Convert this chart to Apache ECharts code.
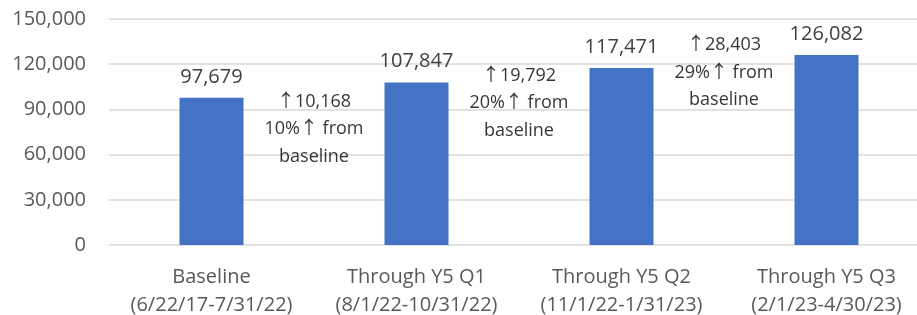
<!DOCTYPE html>
<html>
<head>
<meta charset="utf-8">
<script src="https://cdn.jsdelivr.net/npm/echarts@6/dist/echarts.min.js"></script>
<style>
  html, body { margin:0; padding:0; background:#fff; }
  #chart { width:917px; height:315px; }
</style>
</head>
<body>
<div id="chart"></div>
<script>
  // chart data
  var categories = ['Baseline\n(6/22/17-7/31/22)', 'Through Y5 Q1\n(8/1/22-10/31/22)',
                    'Through Y5 Q2\n(11/1/22-1/31/23)', 'Through Y5 Q3\n(2/1/23-4/30/23)'];
  var values = [97679, 107847, 117471, 126082];
  var yTicks = [0, 30000, 60000, 90000, 120000, 150000];
  // notes between bars: x is the gap between two categories, y is its value anchor
  var noteText = ['↑10,168\n10%↑ from\nbaseline', '↑19,792\n20%↑ from\nbaseline', '↑28,403\n29%↑ from\nbaseline'];
  var noteX = [0.5, 1.5, 2.5];
  var noteY = [77000, 94300, 114300];

  var font = '"Open Sans", "DejaVu Sans", sans-serif';
  // arrows come from the CJK font (wide thin arrow)
  var noteFont = '"Open Sans", "Noto Sans CJK SC", sans-serif';
  var myChart = echarts.init(document.getElementById('chart'));

  var notes = noteX.map(function (x, i) {
    return { value: [x, noteY[i]], label: { formatter: noteText[i] } };
  });

  var option = {
    animation: false,
    // plot runs a little past the right edge, like the original
    grid: { left: 109, width: 820, top: 19, height: 226, containLabel: false, outerBoundsMode: 'none' },
    xAxis: [
      {
        type: 'category',
        data: categories,
        axisLine: { show: false },
        axisTick: { show: false },
        axisLabel: { color: '#595959', fontSize: 20, fontFamily: font, lineHeight: 28, margin: 18, interval: 0 }
      },
      {
        type: 'value',
        min: -0.5,
        max: 3.5,
        show: false
      }
    ],
    yAxis: {
      type: 'value',
      min: yTicks[0],
      max: yTicks[yTicks.length - 1],
      interval: yTicks[1] - yTicks[0],
      axisLine: { show: false },
      axisTick: { show: false },
      splitLine: { lineStyle: { color: '#d9d9d9', width: 1.5 } },
      axisLabel: {
        color: '#595959', fontSize: 20, fontFamily: font, margin: 23,
        formatter: function (v) { return v.toLocaleString('en-US'); }
      }
    },
    series: [
      {
        type: 'bar',
        data: values,
        barWidth: 64,
        itemStyle: { color: '#4472C4' },
        label: {
          show: true, position: 'top', distance: 11,
          color: '#404040', fontSize: 20, fontFamily: font,
          formatter: function (p) { return p.value.toLocaleString('en-US'); }
        }
      },
      {
        type: 'scatter',
        xAxisIndex: 1,
        symbolSize: 0,
        data: notes,
        label: {
          show: true, position: 'inside', align: 'center', verticalAlign: 'middle',
          color: '#000', fontSize: 18, fontFamily: noteFont, lineHeight: 27.5
        }
      }
    ]
  };
  myChart.setOption(option, true);
</script>
</body>
</html>
